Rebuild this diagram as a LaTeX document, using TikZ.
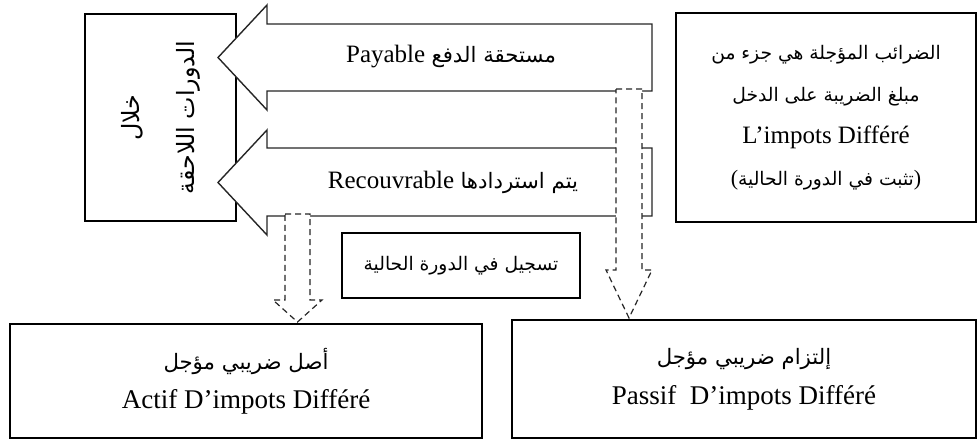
\documentclass[tikz,border=0pt]{standalone}
\usepackage{fontspec}
\setmainfont{Liberation Serif}
\newfontfamily\arabicfont[Script=Arabic,Scale=0.85]{DejaVu Sans}
\TeXXeTstate=1
\newcommand{\artxt}[1]{{\arabicfont\beginR #1\endR}}
\tikzset{
  box/.style={draw, line width=0.7pt, align=center, inner sep=0pt},
  bigarrow/.style={draw=black!85, fill=white, line width=0.7pt},
  dasharrow/.style={draw=black!85, fill=white, line width=0.6pt, dash pattern=on 3pt off 2pt},
}
\begin{document}
\begin{tikzpicture}[x=0.5pt,y=-0.5pt]
    \useasboundingbox (0,0) rectangle (978,441);
    % left box
    \node[box,rotate=90,minimum width=103.5pt,minimum height=75.5pt,
          font=\fontsize{14}{27.5}\selectfont] (later) at (160.5,117.5)
          {\artxt{خلال}\\\artxt{الدورات اللاحقة}};
    % big arrows
    \draw[bigarrow] (652,24) -- (267,24) -- (267,5) -- (218,57.5) -- (267,110) -- (267,91) -- (652,91) -- cycle;
    \draw[bigarrow] (652,148) -- (267,148) -- (267,130) -- (218,182.5) -- (267,235) -- (267,216) -- (652,216) -- cycle;
    \node[font=\fontsize{12.5}{14}\selectfont] (payable) at (451,57) {Payable \artxt{مستحقة الدفع}};
    \node[font=\fontsize{12.5}{14}\selectfont] (recouv) at (453,182) {Recouvrable \artxt{يتم استردادها}};
    % dashed arrows
    \draw[dasharrow] (616,89) -- (642,89) -- (642,270) -- (652,270) -- (629,318) -- (606,270) -- (616,270) -- cycle;
    \draw[dasharrow] (285,214) -- (310,214) -- (310,300) -- (322,300) -- (297.5,322) -- (273,300) -- (285,300) -- cycle;
    % boxes
    \node[box,minimum width=119pt,minimum height=32.5pt,font=\fontsize{11}{13}\selectfont]
          (current) at (461,265.5) {\artxt{تسجيل في الدورة الحالية}};
    \node[box,minimum width=150pt,minimum height=104.5pt,font=\fontsize{11}{21}\selectfont]
          (deferred) at (826,117.5)
          {\artxt{الضرائب المؤجلة هي جزء من}\\\artxt{مبلغ الضريبة على الدخل}\\
           {\fontsize{12.5}{21}\selectfont L’impots Différé}\\(\artxt{تثبت في الدورة الحالية})};
    \node[box,minimum width=236pt,minimum height=57pt,font=\fontsize{13.5}{19.5}\selectfont]
          (actif) at (246,381) {{\fontsize{12.5}{19.5}\selectfont\artxt{أصل ضريبي مؤجل}}\\Actif D’impots Différé};
    \node[box,minimum width=232pt,minimum height=59pt,font=\fontsize{13.5}{20}\selectfont]
          (passif) at (744,379) {{\fontsize{12.5}{20}\selectfont\artxt{إلتزام ضريبي مؤجل}}\\Passif\ \ D’impots Différé};
\end{tikzpicture}
\end{document}
